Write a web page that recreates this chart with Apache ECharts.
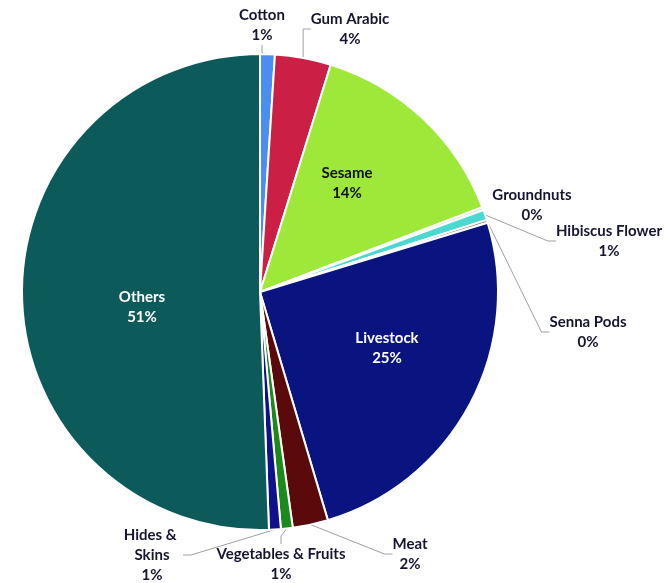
<!DOCTYPE html>
<html><head><meta charset="utf-8">
<script src="https://cdn.jsdelivr.net/npm/echarts@6/dist/echarts.min.js"></script>
<style>html,body{margin:0;padding:0;background:#fff}#c{width:666px;height:583px}</style>
</head><body><div id="c"></div>
<script>
var categories = ['Cotton','Gum Arabic','Sesame','Groundnuts','Hibiscus Flower','Senna Pods','Livestock','Meat','Vegetables & Fruits','Hides & Skins','Others'];
var values = [1.0, 3.8, 14.4, 0.2, 0.7, 0.2, 25.1, 2.4, 0.8, 0.8, 50.6];
var colors = ['#4a8ff0','#cc1f45','#9ee83a','#d8e8c0','#4ad8d0','#8a8a8a','#0a1480','#5a0a0a','#1a8a1a','#10108a','#0d5a5a'];
var insideLabels = {'Sesame':'#111','Livestock':'#fff','Others':'#fff'};
var noLine = {'Groundnuts':true};
var labelPos = [[262,25],[350,29],[347,183],[532,205],[609,241],[588,332],[387,348],[410,554],[281,564],[152,555],[142,307]];

var chart = echarts.init(document.getElementById('c'));
var data = categories.map(function(n,i){
  var inside = insideLabels[n];
  var lbl = inside ? {position:'inside', color:inside} : {position:'outside'};
  if (n === 'Hides & Skins') { lbl.width = 62; lbl.overflow = 'break'; }
  return {
    name:n, value:values[i],
    itemStyle:{color:colors[i]},
    label: lbl,
    labelLine: {show: !inside && !noLine[n]}
  };
});
chart.setOption({
  backgroundColor:'#fff',
  animation:false,
  series:[{
    type:'pie',
    center:[260,292], radius:238,
    startAngle:90, clockwise:true,
    percentPrecision:0,
    avoidLabelOverlap:false,
    itemStyle:{borderColor:'#fff', borderWidth:2},
    label:{
      formatter:'{b}\n{d}%', fontFamily:'Lato', fontWeight:'bold', fontSize:15,
      lineHeight:20, color:'#151530', align:'center'
    },
    labelLine:{lineStyle:{color:'#a0a0a0', width:1}, length:10, length2:8},
    labelLayout:function(p){
      var pos = labelPos[p.dataIndex];
      return {x:pos[0], y:pos[1], align:'center', verticalAlign:'middle'};
    },
    data:data
  }]
});
</script></body></html>
